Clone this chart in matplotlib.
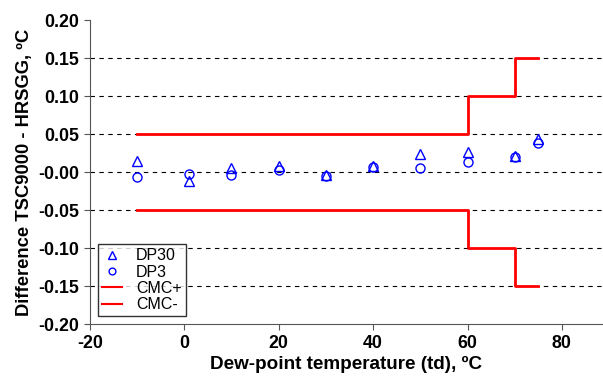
import numpy as np
import matplotlib.pyplot as plt

plt.rcParams['font.family'] = ['Liberation Sans', 'DejaVu Sans']
plt.rcParams['axes.unicode_minus'] = False

td = [-10, 1, 10, 20, 30, 40, 50, 60, 70, 75]
dp30 = [0.015, -0.012, 0.006, 0.008, -0.004, 0.008, 0.024, 0.026, 0.021, 0.044]
dp3 = [-0.007, -0.002, -0.004, 0.003, -0.005, 0.007, 0.006, 0.013, 0.020, 0.038]

cmc_x = [-10, 60, 70, 75]
cmc_plus = [0.05, 0.10, 0.15, 0.15]
cmc_minus = [-0.05, -0.10, -0.15, -0.15]

fig = plt.figure(figsize=(6.03, 3.8), dpi=100)
ax = fig.add_axes([0.149, 0.147, 0.851, 0.8])

for y in [0.15, 0.10, 0.05, 0.0, -0.05, -0.10, -0.15]:
    ax.axhline(y, color='black', ls=(0, (4, 4)), lw=0.8, zorder=1)

ax.plot(td, dp30, ls='none', marker='^', mfc='none', mec='blue', ms=7.5, mew=1, label='DP30', zorder=3)
ax.plot(td, dp3, ls='none', marker='o', mfc='none', mec='blue', ms=6.5, mew=1, label='DP3', zorder=3)
ax.plot(cmc_x, cmc_plus, drawstyle='steps-post', color='red', lw=2, label='CMC+', zorder=2)
ax.plot(cmc_x, cmc_minus, drawstyle='steps-post', color='red', lw=2, label='CMC-', zorder=2)

ax.set_xlim(-20, 88.7)
ax.set_ylim(-0.2, 0.2)
ax.set_xticks([-20, 0, 20, 40, 60, 80])
ax.set_yticks(np.arange(-0.2, 0.21, 0.05))
ax.yaxis.set_major_formatter(plt.FormatStrFormatter('%.2f'))
for lab in ax.get_xticklabels() + ax.get_yticklabels():
    lab.set_fontweight('bold')
ax.tick_params(labelsize=12.8, length=4, color='#555555')
ax.spines['top'].set_visible(False)
ax.spines['right'].set_visible(False)
ax.spines['left'].set_color('#555555')
ax.spines['bottom'].set_color('#555555')

ax.set_xlabel('Dew-point temperature (td), ºC', fontsize=13.6, fontweight='bold', labelpad=3)
ax.set_ylabel('Difference TSC9000 - HRSGG, ºC', fontsize=13.2, fontweight='bold', labelpad=4)

leg = ax.legend(loc='lower left', bbox_to_anchor=(0.0, 0.0), fontsize=11.5, frameon=True,
                fancybox=False, handlelength=1.25, borderpad=0.25, labelspacing=0.08,
                handletextpad=0.9, borderaxespad=0.5, markerscale=0.75)
leg.get_frame().set_edgecolor('black')
leg.get_frame().set_linewidth(1)
for h in leg.get_lines()[2:]:
    h.set_linewidth(1.5)

fig.savefig('out.png', dpi=100)
